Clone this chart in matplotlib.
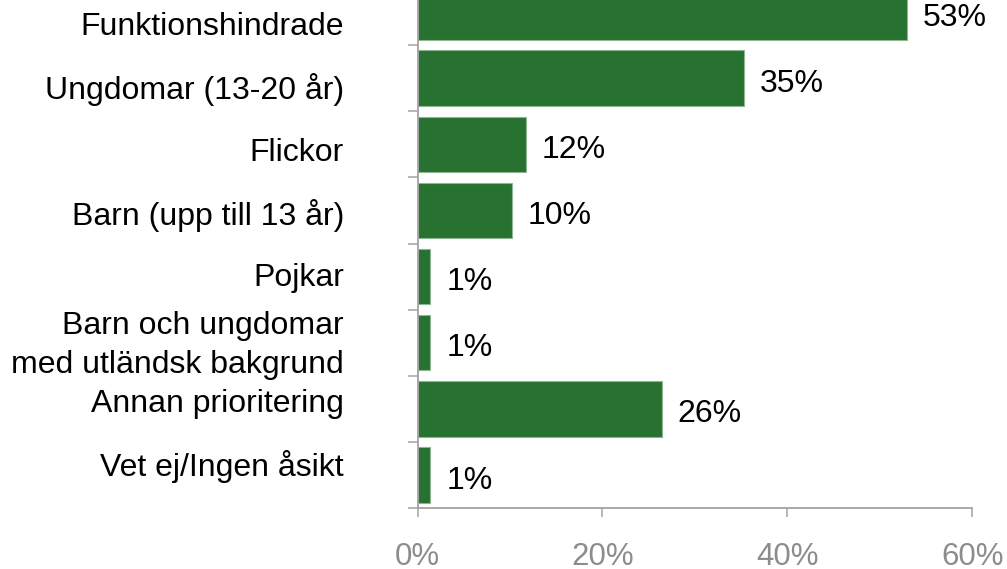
import matplotlib
matplotlib.use("Agg")
import matplotlib.pyplot as plt
import numpy as np

plt.rcParams["font.family"] = ["Liberation Sans", "DejaVu Sans"]

BAR_GREEN = "#277131"
BAR_EDGE = "#8db592"
AXIS_GREY = "#a3a3a3"
TICK_GREY = "#8c8c8c"

categories = [
    "Funktionshindrade",
    "Ungdomar (13-20 år)",
    "Flickor",
    "Barn (upp till 13 år)",
    "Pojkar",
    "Barn och ungdomar\nmed utländsk bakgrund",
    "Annan prioritering",
    "Vet ej/Ingen åsikt",
]
shares = [52.9, 35.3, 11.7, 10.2, 1.4, 1.4, 26.4, 1.4]
x_ticks = [0, 20, 40, 60]

# category labels sit on a slightly tighter spacing than the bars
LABEL_SQUEEZE = 0.95

fig = plt.figure(figsize=(10.07, 5.69), dpi=100, facecolor="white")
ax = fig.add_axes([0.4146, 0.1072, 0.5509, 0.9297])

pos = np.arange(len(categories))
bars = ax.barh(pos, shares, height=0.84, color=BAR_GREEN,
               edgecolor=BAR_EDGE, linewidth=0.8)

for bar, val in zip(bars, shares):
    ax.annotate(f"{round(val)}%", (bar.get_width(), bar.get_y() + bar.get_height() / 2),
                xytext=(11.5, -1.5), textcoords="offset points",
                ha="left", va="center_baseline", fontsize=23, color="black")

ax.set_xlim(0, 60)
ax.set_ylim(len(categories) - 0.5, -0.5)

# x axis
ax.set_xticks(x_ticks)
ax.set_xticklabels([f"{t}%" for t in x_ticks])
ax.tick_params(axis="x", direction="out", length=6.5, width=1.1, color=AXIS_GREY,
               pad=18, labelsize=22.5, labelcolor=TICK_GREY)

# y axis: boundary ticks (minor) and category labels (major, no tick mark)
mid = (len(categories) - 1) / 2
ax.set_yticks(mid + (pos - mid) * LABEL_SQUEEZE)
ax.set_yticklabels(categories)
ax.set_yticks(np.arange(len(categories) + 1) - 0.5, minor=True)
ax.tick_params(axis="y", which="major", length=0, pad=53, labelsize=23)
ax.tick_params(axis="y", which="minor", direction="out", length=7.2, width=1.1,
               color=AXIS_GREY)
for lbl in ax.get_yticklabels():
    lbl.set_va("center_baseline")
    lbl.set_linespacing(1.38)

for side in ("top", "right"):
    ax.spines[side].set_visible(False)
for side in ("left", "bottom"):
    ax.spines[side].set_color(AXIS_GREY)
    ax.spines[side].set_linewidth(1.3)

fig.savefig("out.png", dpi=100, facecolor="white")
